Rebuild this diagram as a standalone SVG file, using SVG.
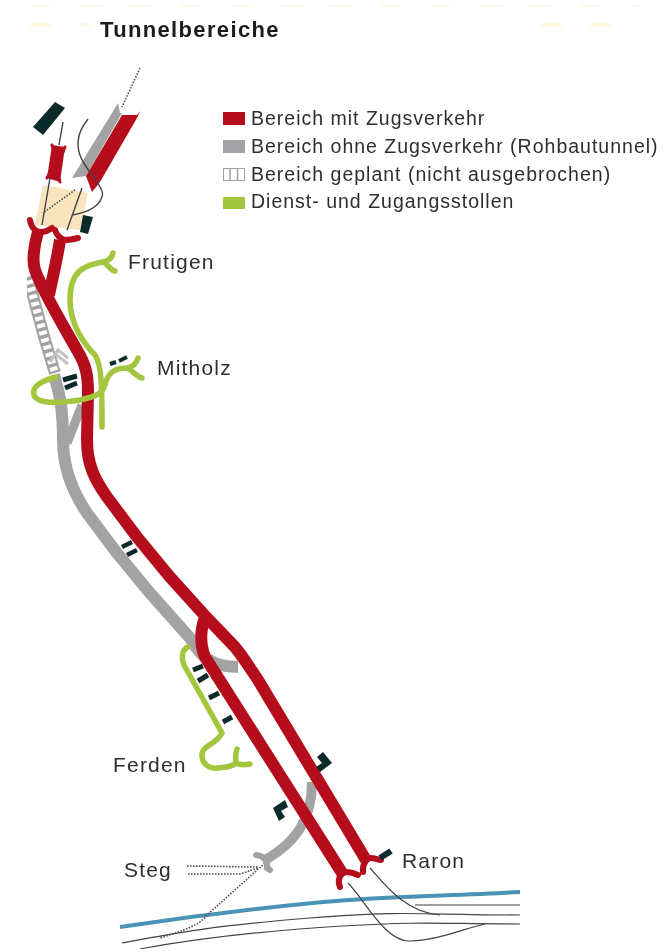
<svg xmlns="http://www.w3.org/2000/svg" width="664" height="952" viewBox="0 0 664 952">
<style>
text{font-family:"Liberation Sans",Arial,sans-serif;fill:#2f2f2f;font-size:21px;letter-spacing:1.2px}
#legend text{font-size:19.5px;letter-spacing:1px}
.red{stroke:#b5101c;stroke-width:12;fill:none}
.redf{stroke:#b5101c;stroke-width:6;fill:none;stroke-linecap:round}
.gray{stroke:#a3a3a5;stroke-width:12;fill:none}
.grayf{stroke:#a3a3a5;stroke-width:6;fill:none;stroke-linecap:round}
.green{stroke:#a2c63c;stroke-width:5.500;fill:none;stroke-linecap:round;stroke-linejoin:round}
.blk{stroke:#10292c;stroke-width:5;fill:none}
.thin{stroke:#3f4444;stroke-width:1.2;fill:none}
.dot{stroke:#555;stroke-width:1.6;fill:none;stroke-dasharray:1.6 1.4}
.fb{fill:#10292c}
</style>
<defs><filter id="soft" x="0" y="0" width="100%" height="100%"><feGaussianBlur stdDeviation="0.5"/></filter></defs>
<rect id="background" width="664" height="952" fill="#fff"/>
<g filter="url(#soft)">
<g id="connectors">
<path d="M30 5H640M30 25H90M540 25H640" stroke="#fdfbe6" stroke-width="4" stroke-dasharray="22 28" fill="none"/>
<polygon points="43,185 88,193 80,230 35,225" fill="#f9e4bd"/>
<path d="M120 927C200 915 260 908 323 902S450 896 520 892" stroke="#4c93b6" stroke-width="4" fill="none"/>
<path class="thin" d="M122 943C170 934 210 926 310 918S420 915 520 915M140 949C200 938 260 931 343 926S440 924 520 924M415 905H520"/>
<path class="thin" d="M370 868C385 885 405 912 440 915M348 883C365 900 385 942 410 941C440 940 465 928 485 924"/>
<path class="dot" d="M140 68L122 107M75 190L43 213M187 866L258 867M188 874L240 874L258 868M265 863L207 915C200 925 185 930 160 938"/>
<!-- gray tunnels -->
<polygon points="118,103 120,113 122,113 86,176 72,178 112,113" fill="#a3a3a5"/>
<path d="M27 273L36 307L45 340L55 373" stroke="#a3a3a5" stroke-width="12" fill="none"/>
<path d="M27 273L36 307L45 340L55 373" stroke="#fff" stroke-width="8" fill="none" stroke-dasharray="4 3.500"/>
<path d="M50 362L58 350L68 358M54 353L68 364" stroke="#c2c2c2" stroke-width="3" fill="none"/>
<path class="gray" d="M54 375C60 395 63 410 63 440C63 460 68 485 87 513L117 553L150 593L190 638C198 650 205 667 238 667"/>
<path class="gray" style="stroke-width:9" d="M82 405L67 443"/>
<path class="gray" style="stroke-width:10" d="M312 782C312 815 300 840 265 860"/>
<path class="grayf" d="M256 855C264 856 268 860 267 868L270 870"/>
<!-- red tunnels -->
<polygon points="122,115 137,115 140,111 137,118 100,182 92,192 86,176" fill="#b5101c"/>
<polygon points="52,145 65,147 60,182 47,178" fill="#b5101c"/>
<path class="redf" style="stroke-width:3" d="M52 145L54 151L63 152L65 147M47 178L50 172L58 174L60 182"/>
<path class="red" d="M38 232C34 245 32 262 35 270C42 290 60 320 77 350C86 365 88 375 88 392L87 440C87 465 95 480 107 497L137 537L170 577L207 618L233 645C240 652 250 668 258 680L366 860"/>
<path class="red" d="M60 240C57 260 52 280 49 295"/>
<path class="red" d="M205 618C200 630 200 645 205 657L344 876"/>
<path class="redf" d="M30 220C31 228 36 232 41 232C45 232 49 230 52 228M55 230C57 236 61 239 65 240C70 240 74 239 78 238"/>
<path class="redf" d="M340 887C337 880 340 873 346 872C351 872 354 873 358 875M363 872C362 864 367 858 371 858C375 858 378 860 381 860"/>
<!-- thin overlays -->
<path class="thin" style="stroke-width:1.4" d="M63 122L59 145M50 178L42 225M82 188L67 230M88 119C75 135 75 150 85 165C95 180 105 190 102 197C98 208 85 213 72 215"/>
</g>
<g id="tunnel-sections">
<polygon class="fb" points="55,102 65,108 43,135 33,127"/>
<polygon class="fb" points="83,215 93,217 88,234 80,232"/>
<path class="blk" d="M63 380L77 376M65 388L77 383"/>
<path class="blk" style="stroke-width:4" d="M110 364L116 362M119 361L127 357"/>
<path class="blk" style="stroke-width:4.500" d="M122 547L132 542M127 555L137 550"/>
<path class="blk" d="M193 670L203 666M198 681L208 675M209 698L219 693M223 722L232 717"/>
<polygon class="fb" points="317,757 323,752 332,763 320,772 316,767 322,763"/>
<polygon class="fb" points="273,808 285,800 288,807 281,811 285,817 279,821"/>
<path class="blk" style="stroke-width:6" d="M380 858L391 851"/>
</g>
<g id="frutigen"><path class="green" d="M113 253C112 258 108 261 103 262C108 264 110 270 115 271M103 262C85 265 70 270 70 300C70 325 85 345 95 355C102 365 102 390 102 427"/><text x="128" y="269">Frutigen</text></g>
<g id="mitholz"><path class="green" d="M138 358C136 365 132 367 127 368C133 370 135 376 142 378M127 368C115 368 108 372 105 385C102 395 93 397 80 400C60 403 38 405 34 395C31 385 45 380 56 377"/><text x="157" y="375">Mitholz</text></g>
<g id="ferden"><path class="green" d="M188 647C182 650 181 657 184 665L222 733C216 745 202 745 202 755C202 765 210 769 218 768C226 767 232 767 236 763C240 765 245 765 250 764M236 763C235 757 236 752 237 749"/><text x="113" y="772">Ferden</text></g>
<g id="steg"><text x="124" y="877">Steg</text></g>
<g id="raron"><text x="402" y="868">Raron</text></g>
<g id="title"><text x="100" y="37" style="font-weight:700;font-size:22px;letter-spacing:1.350px;fill:#1c1c1c">Tunnelbereiche</text></g>
<g id="legend">
<rect x="223" y="112" width="22" height="13" fill="#b5101c"/>
<rect x="223" y="140" width="22" height="13" fill="#a3a3a5"/>
<rect x="223.500" y="168.500" width="21" height="12" fill="#fff" stroke="#a3a3a5"/>
<path d="M230 168V181M237.500 168V181" stroke="#a3a3a5" stroke-width="1.500"/>
<rect x="223" y="197" width="22" height="12" fill="#a2c63c"/>
<text x="251" y="125">Bereich mit Zugsverkehr</text>
<text x="251" y="153">Bereich ohne Zugsverkehr (Rohbautunnel)</text>
<text x="251" y="181">Bereich geplant (nicht ausgebrochen)</text>
<text x="251" y="208">Dienst- und Zugangsstollen</text>
</g>
</g>
</svg>
